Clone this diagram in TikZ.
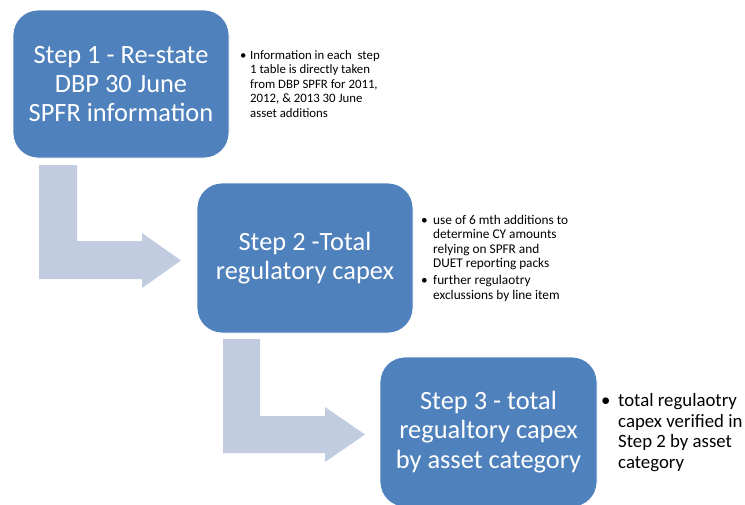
\documentclass[tikz,border=0pt]{standalone}
\usepackage{fontspec}
\setmainfont{Carlito}
\definecolor{boxblue}{HTML}{4F81BD}
\definecolor{arrowgrey}{HTML}{C1CCE1}
\tikzset{
  stepbox/.style={draw=white, line width=0.8pt, fill=boxblue, rounded corners=25pt,
    text=white, align=center, font=\fontsize{26.4}{29.3}\selectfont, inner sep=0pt},
  bentarrow/.style={fill=arrowgrey, draw=none},
  notes/.style={anchor=north west, inner sep=0pt, align=left, text=black},
}
\newcommand{\bul}[1]{\makebox[#1][l]{\textbullet}}
\begin{document}
\begin{tikzpicture}[x=1pt, y=-1pt]
\useasboundingbox (0,0) rectangle (745,504);
% bent arrows
\draw[bentarrow] (39,165) -- (77,165) -- (77,241) -- (142,241) -- (142,233) -- (181,260.5)
  -- (142,288) -- (142,279) -- (39,279) -- cycle;
\draw[bentarrow] (223,339) -- (260,339) -- (260,416) -- (325,416) -- (325,407) -- (365,434.5)
  -- (325,462) -- (325,453) -- (223,453) -- cycle;
% step boxes
\node[stepbox, minimum width=216pt, minimum height=148pt] (s1) at (121,84)
  {Step 1 - Re-state\\DBP 30 June\\SPFR information};
\node[stepbox, minimum width=216pt, minimum height=150pt] (s2) at (305,258)
  {Step 2 -Total\\regulatory capex};
\node[stepbox, minimum width=217pt, minimum height=150pt] (s3) at (488.5,432)
  {Step 3 - total\\regualtory capex\\by asset category};
% notes
\node[notes, font=\fontsize{12.8}{14.5}\selectfont] (n1) at (240,49)
  {\begin{tabular}{@{}l@{}l@{}}
   \bul{10pt} & Information in each\ \ step\\
        & 1 table is directly taken\\
        & from DBP SPFR for 2011,\\
        & 2012, \& 2013 30 June\\
        & asset additions
   \end{tabular}};
\node[notes, font=\fontsize{13.3}{14.5}\selectfont] (n2) at (421,214)
  {\begin{tabular}{@{}l@{}l@{}}
   \bul{12pt} & use of 6 mth additions to\\
        & determine CY amounts\\
        & relying on SPFR and\\
        & DUET reporting packs\\[2.5pt]
   \bul{12pt} & further regulaotry\\
        & exclussions by line item
   \end{tabular}};
\node[notes, font=\fontsize{18.8}{20.5}\selectfont] (n3) at (601,392)
  {\begin{tabular}{@{}l@{}l@{}}
   \bul{17pt} & total regulaotry\\
        & capex verified in\\
        & Step 2 by asset\\
        & category
   \end{tabular}};
\end{tikzpicture}
\end{document}
